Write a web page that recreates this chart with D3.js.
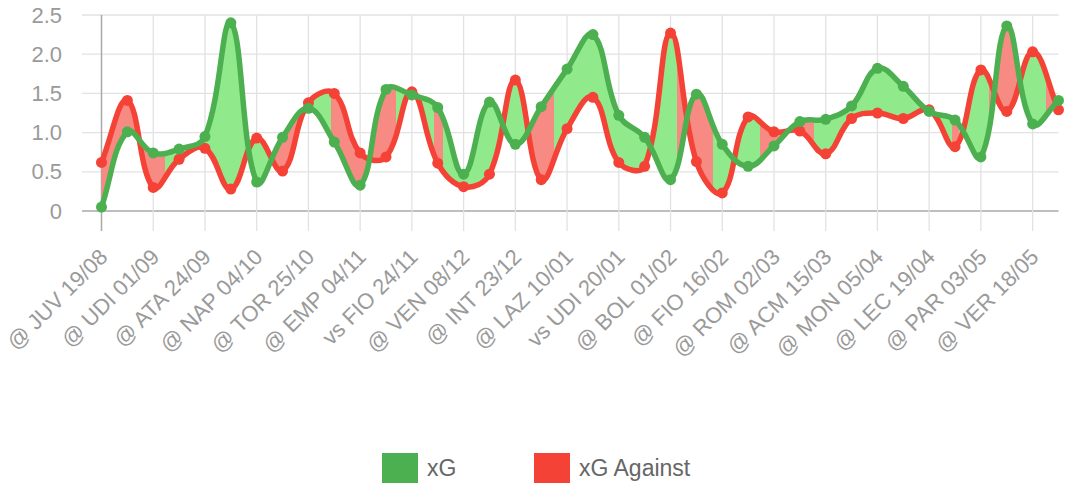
<!DOCTYPE html>
<html>
<head>
<meta charset="utf-8">
<script src="https://cdn.jsdelivr.net/npm/d3@7"></script>
<style>
  html, body { margin: 0; padding: 0; background: #fff; }
  svg { display: block; }
  text { font-family: "Liberation Sans", Arial, Helvetica, sans-serif; }
</style>
</head>
<body>
<svg id="chart" width="1076" height="500"></svg>
<script>
// ---- data ----
const tickLabels = ["@ JUV 19/08","@ UDI 01/09","@ ATA 24/09","@ NAP 04/10","@ TOR 25/10","@ EMP 04/11",
  "vs FIO 24/11","@ VEN 08/12","@ INT 23/12","@ LAZ 10/01","vs UDI 20/01","@ BOL 01/02","@ FIO 16/02",
  "@ ROM 02/03","@ ACM 15/03","@ MON 05/04","@ LEC 19/04","@ PAR 03/05","@ VER 18/05"];
const xG = [0.05,1.01,0.74,0.79,0.95,2.40,0.37,0.94,1.31,0.88,0.33,1.55,1.48,1.32,0.47,1.39,0.85,1.33,1.81,2.25,
  1.22,0.94,0.40,1.49,0.85,0.57,0.83,1.14,1.17,1.34,1.82,1.59,1.27,1.16,0.69,2.36,1.11,1.41];
const xGA = [0.62,1.41,0.30,0.66,0.80,0.28,0.93,0.51,1.38,1.50,0.74,0.69,1.52,0.61,0.31,0.47,1.67,0.40,1.05,1.45,
  0.62,0.57,2.27,0.63,0.23,1.20,1.01,1.02,0.73,1.18,1.25,1.18,1.29,0.82,1.80,1.27,2.03,1.29];
const yTicks = [0, 0.5, 1.0, 1.5, 2.0, 2.5];
const seriesNames = ["xG", "xG Against"];

// ---- layout ----
const area = { left: 101.5, right: 1058.5, top: 15, bottom: 211 };
const GREEN = "#4caf50", RED = "#f44336";
const GREEN_FILL = "#90ea8c", RED_FILL = "#f78b84";

const svg = d3.select("#chart");
const n = xG.length;
const x = d3.scaleLinear().domain([0, n - 1]).range([area.left, area.right]);
const y = d3.scaleLinear().domain([0, 2.5]).range([area.bottom, area.top]);
const tickIdx = tickLabels.map((_, k) => k * 2);

// ---- grid ----
const grid = svg.append("g");
grid.selectAll("line.h").data(yTicks).join("line")
  .attr("x1", area.left - 19.5).attr("x2", area.right)
  .attr("y1", d => y(d)).attr("y2", d => y(d))
  .attr("stroke", d => d === 0 ? "#a8a8a8" : "#e2e2e2").attr("stroke-width", d => d === 0 ? 1.5 : 1.3);
grid.selectAll("line.v").data(tickIdx).join("line")
  .attr("x1", d => x(d)).attr("x2", d => x(d))
  .attr("y1", area.top).attr("y2", area.bottom + 20)
  .attr("stroke", d => d === 0 ? "#a8a8a8" : "#e2e2e2").attr("stroke-width", d => d === 0 ? 1.5 : 1.3);

// y labels
svg.append("g").selectAll("text").data(yTicks).join("text")
  .attr("x", 62).attr("y", d => y(d)).attr("text-anchor", "end")
  .attr("dominant-baseline", "central")
  .attr("fill", "#9a9a9a").style("font-size", "22px")
  .text(d => d === 0 ? "0" : d.toFixed(1));

// x labels
svg.append("g").selectAll("text").data(tickIdx).join("text")
  .attr("transform", d => `translate(${x(d) + 2},${area.bottom + 42}) rotate(-45)`)
  .attr("text-anchor", "end").attr("dominant-baseline", "central")
  .attr("fill", "#9a9a9a").style("font-size", "22px")
  .text((d, k) => tickLabels[k]);

// ---- Chart.js-like spline ----
function controlPoints(pts, t) {
  return pts.map((cur, i) => {
    const prev = i > 0 ? pts[i - 1] : cur;
    const next = i < pts.length - 1 ? pts[i + 1] : cur;
    const d01 = Math.hypot(cur.x - prev.x, cur.y - prev.y);
    const d12 = Math.hypot(next.x - cur.x, next.y - cur.y);
    let s01 = d01 / (d01 + d12), s12 = d12 / (d01 + d12);
    if (isNaN(s01)) s01 = 0; if (isNaN(s12)) s12 = 0;
    const fa = t * s01, fb = t * s12;
    const cap = (v, lo, hi) => Math.max(Math.min(v, hi), lo);
    return {
      x: cur.x, y: cur.y,
      px: cap(cur.x - fa * (next.x - prev.x), area.left, area.right),
      py: cap(cur.y - fa * (next.y - prev.y), area.top, area.bottom),
      nx: cap(cur.x + fb * (next.x - prev.x), area.left, area.right),
      ny: cap(cur.y + fb * (next.y - prev.y), area.top, area.bottom)
    };
  });
}
function toPts(arr) { return arr.map((v, i) => ({ x: x(i), y: y(v) })); }
const cpG = controlPoints(toPts(xG), 0.4);
const cpR = controlPoints(toPts(xGA), 0.4);

function forward(p, cps, move) {
  if (move) p.moveTo(cps[0].x, cps[0].y); else p.lineTo(cps[0].x, cps[0].y);
  for (let i = 1; i < cps.length; i++) {
    const a = cps[i - 1], b = cps[i];
    p.bezierCurveTo(a.nx, a.ny, b.px, b.py, b.x, b.y);
  }
}
function backward(p, cps) {
  const m = cps.length;
  p.lineTo(cps[m - 1].x, cps[m - 1].y);
  for (let i = m - 1; i > 0; i--) {
    const a = cps[i], b = cps[i - 1];
    p.bezierCurveTo(a.px, a.py, b.nx, b.ny, b.x, b.y);
  }
}
function sample(cps) {
  const out = [];
  for (let i = 1; i < cps.length; i++) {
    const a = cps[i - 1], b = cps[i];
    for (let s = 0; s <= 60; s++) {
      const t = s / 60, u = 1 - t;
      out.push({
        x: u*u*u*a.x + 3*u*u*t*a.nx + 3*u*t*t*b.px + t*t*t*b.x,
        y: u*u*u*a.y + 3*u*u*t*a.ny + 3*u*t*t*b.py + t*t*t*b.y
      });
    }
  }
  return out;
}
function interp(samples) {
  const xs = samples.map(d => d.x);
  return xv => {
    let j = d3.bisectLeft(xs, xv);
    if (j <= 0) return samples[0].y;
    if (j >= samples.length) return samples[samples.length - 1].y;
    const a = samples[j - 1], b = samples[j];
    const f = b.x === a.x ? 0 : (xv - a.x) / (b.x - a.x);
    return a.y + f * (b.y - a.y);
  };
}
const fG = interp(sample(cpG)), fR = interp(sample(cpR));

// colour regions of the fill (boundaries offset by one match step, as in the reference)
const step = x(1) - x(0);
const W = area.right - area.left;
const sideAt = xv => (fG(Math.max(xv, area.left)) <= fR(Math.max(xv, area.left)) ? "g" : "r");
const defs = svg.append("defs");
const grad = defs.append("linearGradient").attr("id", "fillGrad")
  .attr("gradientUnits", "userSpaceOnUse")
  .attr("x1", area.left).attr("x2", area.right).attr("y1", 0).attr("y2", 0);
let cur = sideAt(area.left);
const stops = [{ o: 0, c: cur }];
for (let xv = area.left; xv <= area.right; xv += 0.25) {
  const s = sideAt(xv - step);
  if (s !== cur) {
    const o = (xv - area.left) / W;
    stops.push({ o, c: cur }); stops.push({ o, c: s });
    cur = s;
  }
}
stops.push({ o: 1, c: cur });
grad.selectAll("stop").data(stops).join("stop")
  .attr("offset", d => d.o)
  .attr("stop-color", d => d.c === "g" ? GREEN_FILL : RED_FILL);

// fill between curves
const fillPath = d3.path();
forward(fillPath, cpG, true);
backward(fillPath, cpR);
fillPath.closePath();
svg.append("path").attr("d", fillPath.toString()).attr("fill", "url(#fillGrad)");

// ---- lines and points (red first, green on top) ----
function drawSeries(cps, color) {
  const p = d3.path();
  forward(p, cps, true);
  svg.append("path").attr("d", p.toString()).attr("fill", "none")
    .attr("stroke", color).attr("stroke-width", 5.5).attr("stroke-linejoin", "round");
  svg.append("g").selectAll("circle").data(cps).join("circle")
    .attr("cx", d => d.x).attr("cy", d => d.y).attr("r", 5.5).attr("fill", color);
}
drawSeries(cpR, RED);
drawSeries(cpG, GREEN);

// ---- legend ----
const legend = svg.append("g");
const legendItems = [{ name: seriesNames[0], color: GREEN, x: 382 }, { name: seriesNames[1], color: RED, x: 534 }];
legend.selectAll("rect").data(legendItems).join("rect")
  .attr("x", d => d.x).attr("y", 453).attr("width", 36).attr("height", 30).attr("fill", d => d.color);
legend.selectAll("text").data(legendItems).join("text")
  .attr("x", d => d.x + 45).attr("y", 468).attr("dominant-baseline", "central")
  .attr("fill", "#666").style("font-size", "23px").text(d => d.name);
</script>
</body>
</html>
